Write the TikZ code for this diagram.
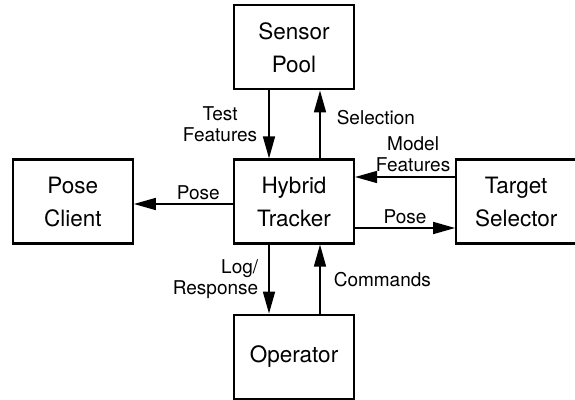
\documentclass[tikz,border=0pt]{standalone}
\usepackage{fontspec}
\setmainfont{TeX Gyre Heros}
\usetikzlibrary{arrows.meta, positioning}

\begin{document}
\begin{tikzpicture}[x=1pt, y=1pt, node distance=68pt,
    box/.style={draw, line width=2.2pt, minimum width=120pt, minimum height=84pt, align=center, font=\fontsize{22.5}{33}\selectfont},
    lbl/.style={font=\fontsize{19}{21}\selectfont, align=center, inner sep=2pt},
    flow/.style={-{Triangle[length=22pt, width=12pt]}, line width=1.6pt}]
  \useasboundingbox (0,0) rectangle (575,-399);
  \node (tracker) [box] at (294,-201.5) {Hybrid\\Tracker};
  \node (sensor) [box, above=of tracker] {Sensor\\Pool};
  \node (operator) [box, below=69pt of tracker] {Operator};
  \node (client) [box, left=99pt of tracker] {Pose\\Client};
  \node (target) [box, right=100pt of tracker] {Target\\Selector};

  \draw[flow] ([xshift=-25pt]sensor.south) -- ([xshift=-25pt]tracker.north) node[lbl, midway, left=9pt] {Test\\Features};
  \draw[flow] ([xshift=26pt]tracker.north) -- ([xshift=26pt]sensor.south) node[lbl, pos=0.6, right=14pt] {Selection};
  \draw[flow] ([yshift=24.5pt]target.west) -- ([yshift=24.5pt]tracker.east) node[lbl, pos=0.42, above=2pt] {Model\\Features};
  \draw[flow] ([yshift=-26.5pt]tracker.east) -- ([yshift=-26.5pt]target.west) node[lbl, midway, above=1pt] {Pose};
  \draw[flow] ([yshift=-2.5pt]tracker.west) -- ([yshift=-2.5pt]client.east) node[lbl, pos=0.35, above=1pt] {Pose};
  \draw[flow] ([xshift=-25pt]tracker.south) -- ([xshift=-25pt]operator.north) node[lbl, midway, left=8pt, align=right] {Log/\\Response};
  \draw[flow] ([xshift=26pt]operator.north) -- ([xshift=26pt]tracker.south) node[lbl, midway, right=11pt] {Commands};
\end{tikzpicture}
\end{document}
